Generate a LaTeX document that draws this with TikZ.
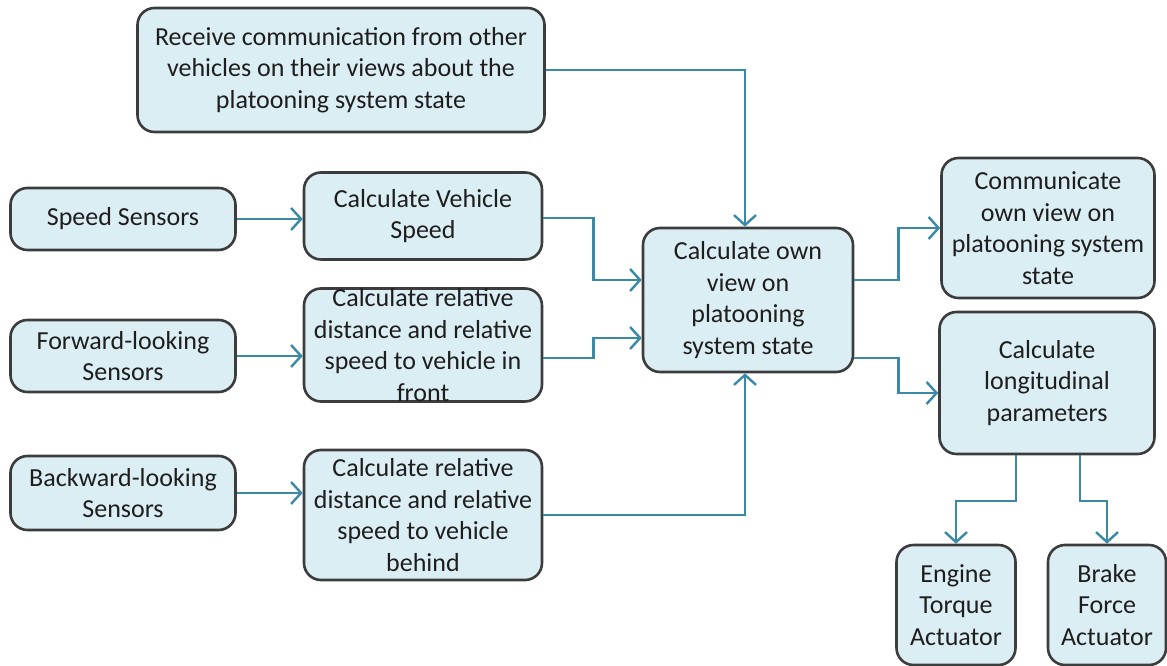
\documentclass[tikz,border=0pt]{standalone}
\usepackage{fontspec}
\setmainfont{Carlito}
\usetikzlibrary{arrows.meta}
\definecolor{boxfill}{HTML}{DBEEF4}
\definecolor{boxline}{HTML}{3C3C3C}
\definecolor{arrowc}{HTML}{3A89A6}
\definecolor{txt}{HTML}{1E1E1E}
\begin{document}
\begin{tikzpicture}[x=1pt,y=1pt,
  box/.style={draw=boxline, line width=2.6pt, fill=boxfill, rounded corners=17pt,
    align=center, inner sep=0pt, text=txt,
    font=\fontsize{26}{31.5}\selectfont},
  conn/.style={draw=arrowc, line width=2.4pt, -{Straight Barb[length=10pt,width=22pt]}}]
\useasboundingbox (0,0) rectangle (1167,666);
\node[box, minimum width=407pt, minimum height=124pt] (recv) at (341,596) {Receive communication from other\\vehicles on their views about the\\platooning system state};
\node[box, minimum width=225pt, minimum height=62pt] (ss) at (123,447) {Speed Sensors};
\node[box, minimum width=238pt, minimum height=87pt] (cs) at (423,450) {Calculate Vehicle\\Speed};
\node[box, minimum width=225pt, minimum height=72pt] (fs) at (123,310) {Forward-looking\\Sensors};
\node[box, minimum width=238pt, minimum height=113pt] (cf) at (423,321) {Calculate relative\\distance and relative\\speed to vehicle in\\front};
\node[box, minimum width=225pt, minimum height=74pt] (bs) at (123,173) {Backward-looking\\Sensors};
\node[box, minimum width=238pt, minimum height=130pt] (cb) at (423,151) {Calculate relative\\distance and relative\\speed to vehicle\\behind};
\node[box, minimum width=210pt, minimum height=144pt] (cent) at (748,366) {Calculate own\\view on\\platooning\\system state};
\node[box, minimum width=213pt, minimum height=140pt] (comm) at (1048,438) {Communicate\\own view on\\platooning system\\state};
\node[box, minimum width=215pt, minimum height=142pt] (lon) at (1047,283) {Calculate\\longitudinal\\parameters};
\node[box, minimum width=119pt, minimum height=120pt] (eng) at (956,61) {Engine\\Torque\\Actuator};
\node[box, minimum width=118pt, minimum height=120pt] (brk) at (1107,61) {Brake\\Force\\Actuator};

\draw[conn] (recv.east) -| ([xshift=-3pt]cent.north);
\draw[conn] (ss.east) -- (ss.east -| cs.west);
\draw[conn] (fs.east) -- (fs.east -| cf.west);
\draw[conn] (bs.east) -- (bs.east -| cb.west);
\draw[conn] ([yshift=-2pt]cs.east) -- ++(50,0) |- ([yshift=20pt]cent.west);
\draw[conn] ([yshift=-13pt]cf.east) -- ++(50,0) |- ([yshift=-38pt]cent.west);
\draw[conn] (cb.east) -| ([xshift=-3pt]cent.south);
\draw[conn] ([yshift=20pt]cent.east) -- ++(44,0) |- (comm.west);
\draw[conn] ([yshift=-58pt]cent.east) -- ++(44,0) |- ([yshift=-10pt]lon.west);
\draw[conn] ([xshift=-31pt]lon.south) -- ++(0,-46) -| (eng.north);
\draw[conn] ([xshift=33pt]lon.south) -- ++(0,-46) -| (brk.north);
\end{tikzpicture}
\end{document}
